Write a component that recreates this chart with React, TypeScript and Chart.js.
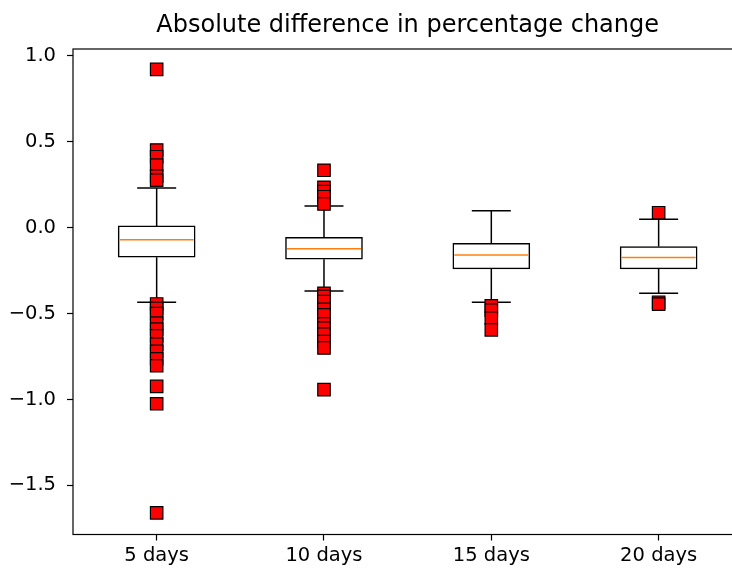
import { useEffect, useRef } from 'react';
import { Chart, registerables } from 'chart.js';
Chart.register(...registerables);

const categories = ['5 days', '10 days', '15 days', '20 days'];
const positions = [1, 2, 3, 4];
const q1 = [-0.172, -0.184, -0.24, -0.24];
const medians = [-0.07, -0.122, -0.159, -0.174];
const q3 = [0.01, -0.056, -0.091, -0.11];
const whiskerLow = [-0.434, -0.368, -0.434, -0.382];
const whiskerHigh = [0.231, 0.126, 0.099, 0.049];
const outliers5 = [0.921, 0.452, 0.413, 0.364, 0.3, 0.277, -0.444, -0.47, -0.5, -0.556, -0.59, -0.63, -0.678, -0.72, -0.763, -0.804, -0.924, -1.025, -1.66];
const outliers10 = [0.334, 0.235, 0.21, 0.18, 0.138, -0.382, -0.4, -0.43, -0.475, -0.508, -0.56, -0.585, -0.62, -0.663, -0.7, -0.943];
const outliers15 = [-0.455, -0.48, -0.527, -0.595];
const outliers20 = [0.087, -0.435, -0.445];
const outliers = [outliers5, outliers10, outliers15, outliers20];
const yTicks = [-1.5, -1.0, -0.5, 0.0, 0.5, 1.0];
const title = 'Absolute difference in percentage change';

const FONT = "'DejaVu Sans', sans-serif";

const framePlugin = {
  id: 'frame',
  afterDatasetsDraw(chart: any) {
    const { ctx, chartArea } = chart;
    const { left, top, right, bottom } = chartArea;
    ctx.save();
    ctx.strokeStyle = '#000';
    ctx.lineWidth = 1.2;
    ctx.strokeRect(left, top, right - left, bottom - top);
    ctx.restore();
  },
};

export default function App() {
  const ref = useRef<HTMLCanvasElement>(null);
  useEffect(() => {
    const whiskerData: any[] = [];
    const capData: any[] = [];
    positions.forEach((p, i) => {
      whiskerData.push({ x: p, y: q1[i] }, { x: p, y: whiskerLow[i] }, { x: p, y: null });
      whiskerData.push({ x: p, y: q3[i] }, { x: p, y: whiskerHigh[i] }, { x: p, y: null });
      capData.push({ x: p, y: whiskerLow[i] }, { x: p, y: whiskerHigh[i] });
    });
    const outlierData: any[] = [];
    positions.forEach((p, i) => outliers[i].forEach((v) => outlierData.push({ x: p, y: v })));

    const chart = new Chart(ref.current as HTMLCanvasElement, {
      type: 'bar',
      data: {
        datasets: [
          {
            type: 'bar',
            data: positions.map((p, i) => ({ x: p, y: [q1[i], q3[i]] })) as any,
            backgroundColor: '#ffffff',
            borderColor: '#000000',
            borderWidth: 1.5,
            borderSkipped: false,
            barThickness: 77,
            order: 4,
          } as any,
          {
            type: 'line',
            data: whiskerData,
            borderColor: '#000000',
            borderWidth: 1.5,
            pointRadius: 0,
            spanGaps: false,
            order: 3,
          } as any,
          {
            type: 'scatter',
            data: capData,
            pointStyle: 'line',
            pointRadius: 19.5,
            pointBorderColor: '#000000',
            pointBorderWidth: 1.5,
            order: 2,
          } as any,
          {
            type: 'scatter',
            data: positions.map((p, i) => ({ x: p, y: medians[i] })),
            pointStyle: 'line',
            pointRadius: 37,
            pointBorderColor: '#ff7f0e',
            pointBorderWidth: 1.5,
            order: 1,
          } as any,
          {
            type: 'scatter',
            data: outlierData,
            pointStyle: 'rect',
            pointRadius: 8.8,
            pointBackgroundColor: '#ff0000',
            pointBorderColor: '#000000',
            pointBorderWidth: 1.2,
            order: 0,
          } as any,
        ],
      },
      options: {
        animation: false,
        responsive: false,
        devicePixelRatio: 1,
        events: [],
        layout: { autoPadding: false, padding: { left: 0, right: 17.7, top: 0, bottom: 0 } },
        plugins: {
          legend: { display: false },
          tooltip: { enabled: false },
          title: {
            display: true,
            text: title,
            fullSize: false,
            color: '#000',
            font: { family: FONT, size: 24, weight: 'normal', lineHeight: 1.2 },
            padding: { top: 11.3, bottom: 8.9 },
          },
        },
        scales: {
          x: {
            type: 'linear',
            min: 0.5,
            max: 4.5,
            offset: false,
            afterFit: (s: any) => { s.height = 38.5; s.paddingLeft = 0; s.paddingRight = 0; },
            afterBuildTicks: (s: any) => { s.ticks = positions.map((v) => ({ value: v })); },
            ticks: {
              color: '#000',
              font: { family: FONT, size: 19.5 },
              padding: 4,
              maxRotation: 0,
              autoSkip: false,
              callback: (v: any) => categories[positions.indexOf(Number(v))] ?? '',
            },
            grid: { display: true, drawOnChartArea: false, drawTicks: true, tickLength: 6, tickColor: '#000', tickWidth: 1.2, offset: false },
            border: { display: false },
          },
          y: {
            type: 'linear',
            min: -1.786,
            max: 1.04,
            afterFit: (s: any) => { s.width = 73; s.paddingTop = 0; s.paddingBottom = 0; },
            afterBuildTicks: (s: any) => { s.ticks = yTicks.map((v) => ({ value: v })); },
            ticks: {
              color: '#000',
              font: { family: FONT, size: 19.5 },
              padding: 11,
              callback: (v: any) => (Number(v) < 0 ? '\u2212' : '') + Math.abs(Number(v)).toFixed(1),
            },
            grid: { display: true, drawOnChartArea: false, drawTicks: true, tickLength: 6, tickColor: '#000', tickWidth: 1.2 },
            border: { display: false },
          },
        },
      } as any,
      plugins: [framePlugin],
    });
    return () => chart.destroy();
  }, []);

  return (
    <div style={{ position: 'fixed', left: 0, top: 0, width: 732, height: 573, overflow: 'hidden', background: '#fff' }}>
      <canvas ref={ref} width={760} height={573} style={{ display: 'block', width: 760, height: 573 }} />
    </div>
  );
}
